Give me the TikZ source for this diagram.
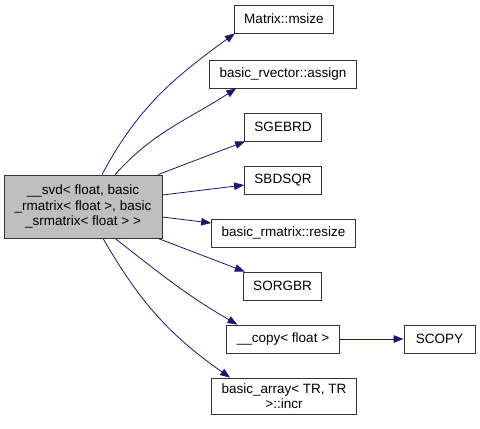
\documentclass[tikz,border=0pt]{standalone}
\usepackage{xcolor}
\usepackage{fontspec}
\setmainfont{Liberation Sans}
\usepackage{tikz}
\usetikzlibrary{positioning,arrows.meta}
\definecolor{edgeblue}{HTML}{191970}
\definecolor{nodegray}{HTML}{BFBFBF}

\begin{document}
\begin{tikzpicture}[x=1pt,y=-1pt,
  fn/.style={draw=black!80, line width=0.8pt, fill=white, minimum height=28pt,
             inner xsep=10pt, inner ysep=2pt, align=center,
             font=\fontsize{13.5}{15.5}\selectfont},
  call/.style={draw=edgeblue, line width=0.8pt, -{Triangle[length=10pt,width=7.5pt,fill=edgeblue]}}]
\useasboundingbox (0,0) rectangle (480,429);

% caller
\node[fn, fill=nodegray, minimum width=158pt, minimum height=63pt] (svd) at (83,206.5)
  {\_\_svd< float, basic\\\_rmatrix< float >, basic\\\_srmatrix< float > >};

% callees
\node[fn] (msize)  at (284,19)  {Matrix::msize};
\node[fn] (assign) at (283,74)  {basic\_rvector::assign};
\node[fn] (sgebrd) at (283,127) {SGEBRD};
\node[fn] (sbdsqr) at (283,180) {SBDSQR};
\node[fn] (resize) at (283.5,233) {basic\_rmatrix::resize};
\node[fn] (sorgbr) at (282.5,286) {SORGBR};
\node[fn] (copy)   at (283,339) {\_\_copy< float >};
\node[fn, minimum width=71pt, right=64pt of copy] (scopy) {SCOPY};
\node[fn, minimum height=36pt] (incr) at (284,396) {basic\_array< TR, TR\\>::incr};

\draw[call] ([xshift=19pt]svd.north) to[out=62,in=216] ([xshift=1pt]msize.south west);
\draw[call] ([xshift=32pt]svd.north) to[out=48,in=213] ([xshift=27pt]assign.south west);
\draw[call] ([xshift=75pt]svd.north) -- ([xshift=1pt]sgebrd.south west);
\draw[call] ([yshift=11.5pt]svd.east) -- ([yshift=-5pt]sbdsqr.west);
\draw[call] ([yshift=-10.5pt]svd.east) -- ([yshift=10pt]resize.west);
\draw[call] ([xshift=75pt]svd.south) -- ([xshift=2pt]sorgbr.north west);
\draw[call] ([xshift=32pt]svd.south) to[out=-38,in=150] ([xshift=11pt]copy.north west);
\draw[call] ([xshift=20pt]svd.south) to[out=-60,in=145] ([xshift=19pt]incr.north west);
\draw[call] (copy.east) -- (scopy.west);
\end{tikzpicture}
\end{document}
